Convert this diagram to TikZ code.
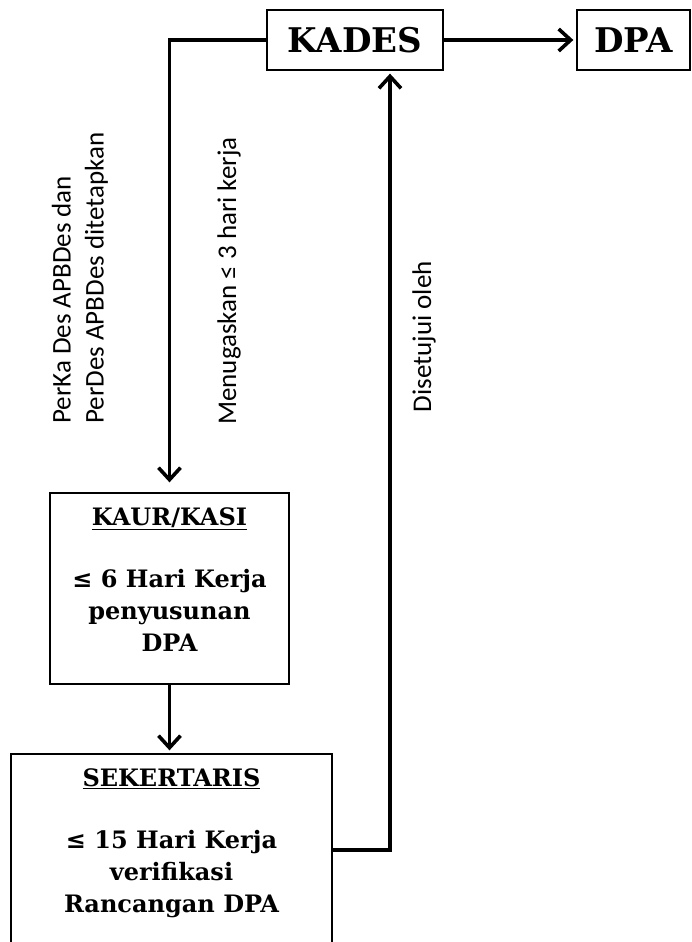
\documentclass[tikz,border=0pt]{standalone}
\usepackage{fontspec}
\setmainfont{DejaVu Serif}
\newfontfamily\labelfont{Carlito}
\usetikzlibrary{arrows.meta}

\begin{document}
\begin{tikzpicture}[
    x=1pt, y=-1pt,
    box/.style={rectangle, draw, line width=1.3pt, inner sep=0pt},
    title/.style={font=\fontsize{34}{38}\selectfont\bfseries},
    boxtext/.style={align=center, font=\fontsize{24}{32}\selectfont\bfseries, inner sep=0pt, anchor=north},
    steplabel/.style={rotate=90, align=left, font=\labelfont\fontsize{27}{33}\selectfont, inner sep=0pt},
    arrow/.style={-{Straight Barb[length=12pt, width=22pt]}, line width=3.6pt, shorten >=3pt}
]
    \useasboundingbox (0,0) rectangle (692,942);

    % Top row
    \node[box, title, minimum width=176pt, minimum height=60pt] (kades) at (355,40) {KADES};
    \node[box, title, minimum width=113pt, minimum height=60pt] (dpa) at (633.5,40) {DPA};

    % Left column
    \node[box, minimum width=239pt, minimum height=191pt] (kaur) at (169.5,588.5) {};
    \node[boxtext] (kaurtext) at ([yshift=-15pt]kaur.north) {\underline{KAUR/KASI}\\[30pt]≤ 6 Hari Kerja\\penyusunan\\DPA};

    \node[box, minimum width=321pt, minimum height=192pt] (sek) at (171.5,850) {};
    \node[boxtext] (sektext) at ([yshift=-15pt]sek.north) {\underline{SEKERTARIS}\\[30pt]≤ 15 Hari Kerja\\verifikasi\\Rancangan DPA};

    % Labels
    \node[steplabel, anchor=west] (perdes) at (80,424) {PerKa Des APBDes dan\\PerDes APBDes ditetapkan};
    \node[steplabel, anchor=west] (tugas) at (229,425) {Menugaskan ≤ 3 hari kerja};
    \node[steplabel, anchor=east] (setuju) at (424,261) {Disetujui oleh};

    \coordinate (bend) at (390,850);

    \draw[arrow] (kades) -- (dpa);
    \draw[arrow, shorten >=10pt] (kades.west) -| (kaur.north);
    \draw[arrow] (kaur.south) -- (kaur.south |- sek.north);
    \draw[arrow] (sek.east |- bend) -- (bend) -- (bend |- kades.south);
\end{tikzpicture}
\end{document}
